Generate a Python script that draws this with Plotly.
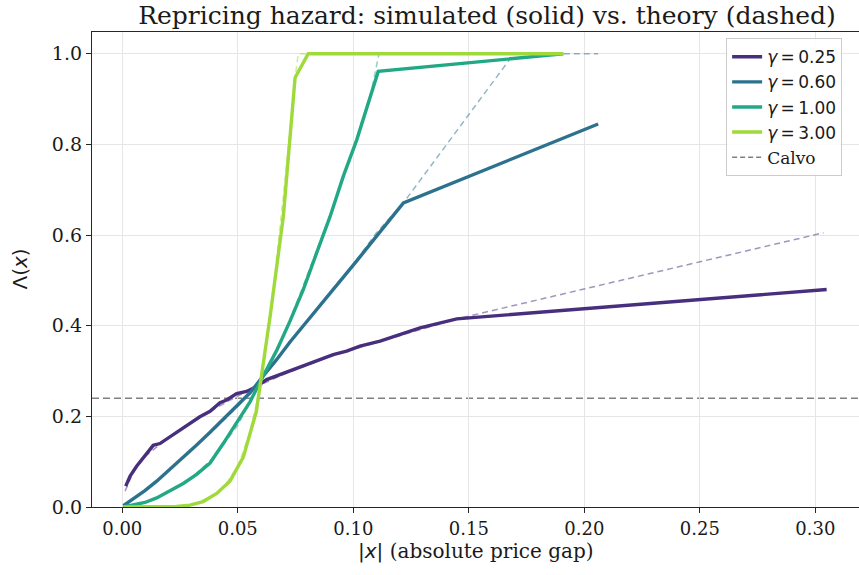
import plotly.graph_objects as go

# ---------------- data ----------------
gammas = ["0.25", "0.60", "1.00", "3.00"]
colors = ["#472f7d", "#2c728e", "#22a884", "#9fda3a"]

# simulated hazards (solid)
x025 = [0.0015, 0.0034, 0.0062, 0.0098, 0.0134, 0.0163, 0.0206, 0.025, 0.0293, 0.0336,
        0.038, 0.0423, 0.0452, 0.0495, 0.0538, 0.0582, 0.0625, 0.0683, 0.074, 0.0798,
        0.0856, 0.0913, 0.0971, 0.1029, 0.1116, 0.1289, 0.1448, 0.3049]
y025 = [0.046, 0.068, 0.09, 0.112, 0.136, 0.140, 0.155, 0.171, 0.186, 0.199,
        0.211, 0.230, 0.236, 0.250, 0.255, 0.266, 0.281, 0.292, 0.302, 0.314,
        0.325, 0.336, 0.344, 0.355, 0.366, 0.395, 0.415, 0.480]

x060 = [0.0005, 0.005, 0.0098, 0.0149, 0.0206, 0.0264, 0.0322, 0.038, 0.0437, 0.0495,
        0.0553, 0.061, 0.0668, 0.0726, 0.0784, 0.0841, 0.0899, 0.0957, 0.1015, 0.1073,
        0.113, 0.1217, 0.206]
y060 = [0.003, 0.018, 0.036, 0.057, 0.083, 0.110, 0.137, 0.165, 0.193, 0.222,
        0.252, 0.289, 0.325, 0.364, 0.400, 0.435, 0.470, 0.505, 0.543, 0.580,
        0.617, 0.671, 0.845]

x100 = [0.0005, 0.005, 0.0098, 0.0149, 0.0206, 0.0264, 0.0322, 0.038, 0.0437, 0.0495,
        0.0553, 0.061, 0.0668, 0.0726, 0.0784, 0.0841, 0.0899, 0.0957, 0.1015, 0.1108,
        0.1909]
y100 = [0.0, 0.004, 0.010, 0.020, 0.035, 0.052, 0.072, 0.097, 0.140, 0.185,
        0.232, 0.289, 0.345, 0.410, 0.480, 0.560, 0.640, 0.730, 0.810, 0.961,
        1.0]

x300 = [0.0005, 0.0062, 0.012, 0.0178, 0.0235, 0.0293, 0.035, 0.0409, 0.0466, 0.0524,
        0.058, 0.064, 0.0697, 0.0748, 0.0805, 0.1909]
y300 = [0.0, 0.0, 0.0, 0.0, 0.001, 0.004, 0.012, 0.030, 0.057, 0.110,
        0.210, 0.421, 0.640, 0.947, 1.0, 1.0]

# theoretical hazards (dashed)
t025x = [0.0012, 0.005, 0.01, 0.02, 0.03, 0.04, 0.05, 0.06, 0.07, 0.08, 0.09, 0.10,
         0.11, 0.12, 0.13, 0.1448, 0.3035]
t025y = [0.035, 0.08, 0.112, 0.153, 0.187, 0.217, 0.245, 0.27, 0.293, 0.313, 0.332, 0.348,
         0.363, 0.378, 0.393, 0.415, 0.605]
t060x = [0.0005, 0.01, 0.02, 0.03, 0.04, 0.05, 0.06, 0.07, 0.08, 0.09, 0.10, 0.11,
         0.1217, 0.1695, 0.206]
t060y = [0.002, 0.037, 0.08, 0.125, 0.172, 0.222, 0.28, 0.345, 0.41, 0.475, 0.535, 0.605,
         0.671, 1.0, 1.0]
t100x = [0.0005, 0.01, 0.02, 0.03, 0.04, 0.05, 0.06, 0.07, 0.08, 0.09, 0.1, 0.108,
         0.1111, 0.1909]
t100y = [0.0, 0.01, 0.032, 0.064, 0.112, 0.18, 0.28, 0.38, 0.51, 0.645, 0.79, 0.921,
         1.0, 1.0]
t300x = [0.0005, 0.02, 0.03, 0.04, 0.045, 0.05, 0.055, 0.06, 0.065, 0.07, 0.0748,
         0.0762, 0.1909]
t300y = [0.0, 0.0, 0.004, 0.027, 0.052, 0.09, 0.16, 0.27, 0.46, 0.70, 0.947,
         1.0, 1.0]

calvo = 0.24

x_ticks = [0.00, 0.05, 0.10, 0.15, 0.20, 0.25, 0.30]
y_ticks = [0.0, 0.2, 0.4, 0.6, 0.8, 1.0]

sims = [(x025, y025), (x060, y060), (x100, y100), (x300, y300)]
theories = [(t025x, t025y), (t060x, t060y), (t100x, t100y), (t300x, t300y)]

SERIF = "DejaVu Serif"
SANS = "DejaVu Sans"

fig = go.Figure()

# theory (underneath)
for (tx, ty), c in zip(theories, colors):
    fig.add_trace(go.Scatter(x=tx, y=ty, mode="lines", showlegend=False,
                             line=dict(color=c, width=1.5, dash="6px,4px"),
                             opacity=0.5, hoverinfo="skip"))

# simulated (on top)
for (sx, sy), c, g in zip(sims, colors, gammas):
    fig.add_trace(go.Scatter(x=sx, y=sy, mode="lines",
                             name=f"<i>γ</i>\u2009=\u2009{g}",
                             line=dict(color=c, width=3.4)))

# Calvo legend entry + line
fig.add_trace(go.Scatter(x=[None], y=[None], mode="lines",
                         name=f"<span style='font-family:{SERIF}'>Calvo</span>",
                         line=dict(color="#808080", width=1.5, dash="5px,3px")))
fig.add_hline(y=calvo, line=dict(color="#808080", width=1.6, dash="7px,4px"),
              layer="below")

W, H = 859, 575
L, R, T, B = 92, 0, 32, 68

fig.update_layout(
    width=W, height=H,
    margin=dict(l=L, r=R, t=T, b=B, pad=0),
    paper_bgcolor="white", plot_bgcolor="white",
    font=dict(family=SERIF, size=18, color="#1a1a1a"),
    title=dict(text="Repricing hazard: simulated (solid) vs. theory (dashed)",
               font=dict(family=SERIF, size=25, color="#1a1a1a"),
               xref="paper", x=0.515, xanchor="center",
               yref="container", y=1 - 15 / H, yanchor="middle"),
    showlegend=True,
    legend=dict(x=0.978, xanchor="right", y=0.987, yanchor="top",
                bgcolor="rgba(255,255,255,0.85)", bordercolor="#cccccc", borderwidth=1,
                font=dict(family=SANS, size=17, color="#1a1a1a"),
                tracegroupgap=0, itemwidth=30),
    xaxis=dict(range=[-0.0131, 0.3189], tickvals=x_ticks,
               ticktext=[f"{v:.2f}" for v in x_ticks],
               showgrid=True, gridcolor="#e6e6e6", gridwidth=1, zeroline=False,
               showline=True, linecolor="#262626", linewidth=1.3, mirror=True,
               ticks="outside", ticklen=5, tickwidth=1.2, tickcolor="#262626",
               tickfont=dict(family=SERIF, size=18)),
    yaxis=dict(range=[0, 1.048], tickvals=y_ticks,
               ticktext=[f"{v:.1f}" for v in y_ticks],
               showgrid=True, gridcolor="#e6e6e6", gridwidth=1, zeroline=False,
               showline=True, linecolor="#262626", linewidth=1.3, mirror=False,
               ticks="outside", ticklen=5, tickwidth=1.2, tickcolor="#262626",
               tickfont=dict(family=SERIF, size=19)),
)

fig.add_annotation(text=f"<span style='font-family:{SANS}'>|<i>x</i>|</span> (absolute price gap)",
                   xref="paper", yref="paper", x=0.5, y=-(551 - (H - B)) / (H - T - B),
                   xanchor="center", yanchor="middle", showarrow=False,
                   font=dict(family=SERIF, size=20, color="#1a1a1a"))
fig.add_annotation(text="Λ(<i>x</i>)", textangle=-90,
                   xref="paper", yref="paper", x=-(L - 19) / (W - L - R), y=0.5,
                   xanchor="center", yanchor="middle", showarrow=False,
                   font=dict(family=SANS, size=20, color="#1a1a1a"))

fig.write_html("out.html", config={"displayModeBar": False},
               post_script="document.body.style.margin='0';")
